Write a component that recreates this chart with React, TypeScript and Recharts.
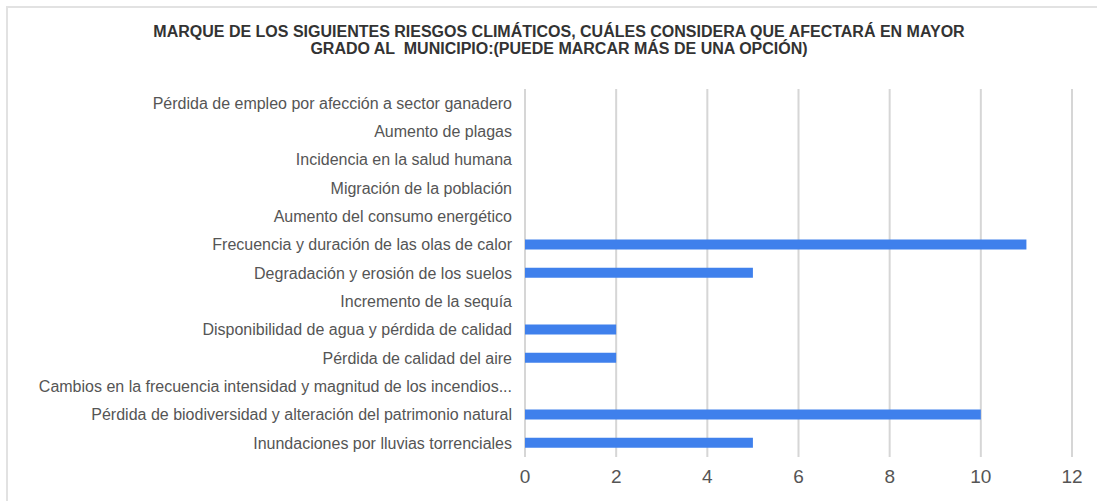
import { BarChart, Bar, XAxis, YAxis, CartesianGrid } from 'recharts';

const categories = [
  'Pérdida de empleo por afección a sector ganadero',
  'Aumento de plagas',
  'Incidencia en la salud humana',
  'Migración de la población',
  'Aumento del consumo energético',
  'Frecuencia y duración de las olas de calor',
  'Degradación y erosión de los suelos',
  'Incremento de la sequía',
  'Disponibilidad de agua y pérdida de calidad',
  'Pérdida de calidad del aire',
  'Cambios en la frecuencia intensidad y magnitud de los incendios...',
  'Pérdida de biodiversidad y alteración del patrimonio natural',
  'Inundaciones por lluvias torrenciales',
];

const values = [0, 0, 0, 0, 0, 11, 5, 0, 2, 2, 0, 10, 5];

const xTicks = [0, 2, 4, 6, 8, 10, 12];

const titleLines = [
  'MARQUE DE LOS SIGUIENTES RIESGOS CLIMÁTICOS, CUÁLES CONSIDERA QUE AFECTARÁ EN MAYOR',
  'GRADO AL  MUNICIPIO:(PUEDE MARCAR MÁS DE UNA OPCIÓN)',
];

const data = categories.map((name, i) => ({ name, value: values[i] }));

const App = () => {
  return (
    <div
      style={{
        position: 'absolute',
        left: 0,
        top: 0,
        width: 1097,
        height: 501,
        background: '#fff',
        overflow: 'hidden',
        fontFamily: '"Liberation Sans", Arial, sans-serif',
      }}
    >
      <div
        style={{
          position: 'absolute',
          left: 6,
          top: 6,
          width: 1200,
          height: 600,
          borderTop: '2px solid #e2e2e2',
          borderLeft: '2px solid #e2e2e2',
        }}
      />
      <div
        style={{
          position: 'absolute',
          left: 59,
          width: 1000,
          top: 23,
          textAlign: 'center',
          fontWeight: 'bold',
          fontSize: 16,
          lineHeight: '17px',
          color: '#333',
        }}
      >
        {titleLines.map((t) => (
          <div key={t} style={{ whiteSpace: 'pre' }}>{t}</div>
        ))}
      </div>
      <div style={{ position: 'absolute', left: 0, top: 0 }}>
        <BarChart
          width={1097}
          height={501}
          data={data}
          layout="vertical"
          margin={{ top: 89, right: 25, bottom: 0, left: 0 }}
        >
          <CartesianGrid horizontal={false} stroke="#d6d6d6" strokeWidth={2} />
          <XAxis
            type="number"
            domain={[0, 12]}
            ticks={xTicks}
            axisLine={false}
            tickLine={false}
            tickSize={0}
            tickMargin={13}
            tick={{ fontSize: 19, fill: '#555' }}
            height={44}
          />
          <YAxis
            type="category"
            dataKey="name"
            width={525}
            axisLine={false}
            tickLine={false}
            tickSize={0}
            tickMargin={13}
            interval={0}
            tick={{ fontSize: 16, fill: '#555' }}
          />
          <Bar dataKey="value" fill="#3f80ec" barSize={10} isAnimationActive={false} />
        </BarChart>
      </div>
    </div>
  );
};

export default App;
